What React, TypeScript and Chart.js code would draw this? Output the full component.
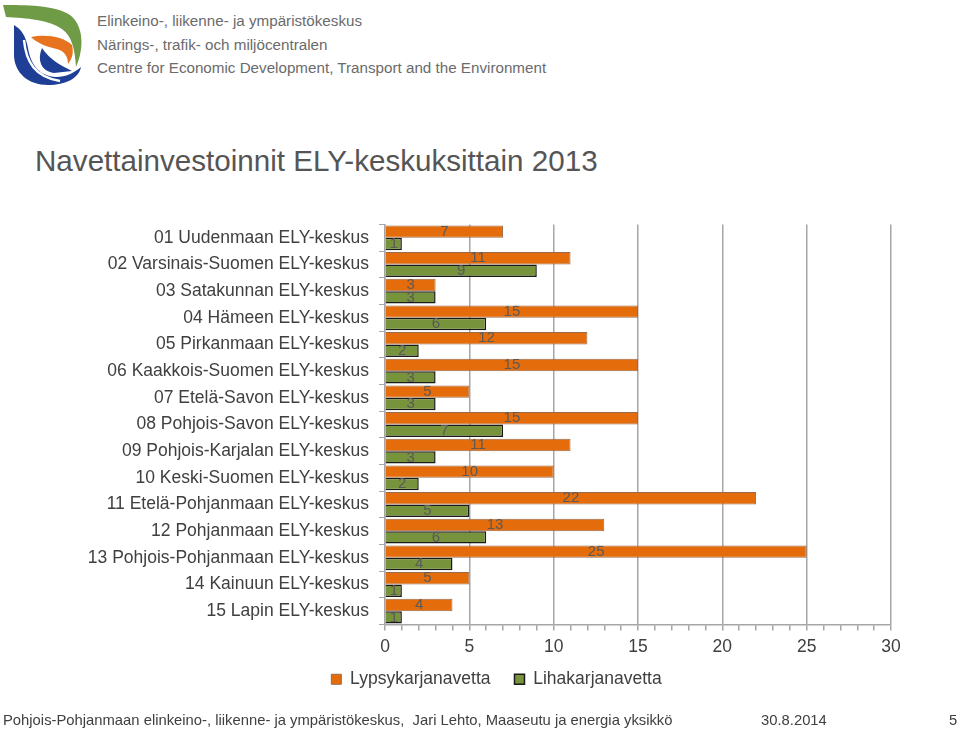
import React, { useEffect, useRef } from "react";
import { Chart, registerables } from "chart.js";

Chart.register(...registerables);

const categories = [
  "01 Uudenmaan ELY-keskus",
  "02 Varsinais-Suomen ELY-keskus",
  "03 Satakunnan ELY-keskus",
  "04 Hämeen ELY-keskus",
  "05 Pirkanmaan ELY-keskus",
  "06 Kaakkois-Suomen ELY-keskus",
  "07 Etelä-Savon ELY-keskus",
  "08 Pohjois-Savon ELY-keskus",
  "09 Pohjois-Karjalan ELY-keskus",
  "10 Keski-Suomen ELY-keskus",
  "11 Etelä-Pohjanmaan ELY-keskus",
  "12 Pohjanmaan ELY-keskus",
  "13 Pohjois-Pohjanmaan ELY-keskus",
  "14 Kainuun ELY-keskus",
  "15 Lapin ELY-keskus",
];
const lypsykarjanavetta = [7, 11, 3, 15, 12, 15, 5, 15, 11, 10, 22, 13, 25, 5, 4];
const lihakarjanavetta = [1, 9, 3, 6, 2, 3, 3, 7, 3, 2, 5, 6, 4, 1, 1];
const xTicks = [0, 5, 10, 15, 20, 25, 30];

const FONT = '"Liberation Sans", Arial, Helvetica, sans-serif';

const valueLabels = {
  id: "valueLabels",
  afterDatasetsDraw(chart: any) {
    const ctx = chart.ctx;
    ctx.save();
    ctx.font = `15px ${FONT}`;
    ctx.fillStyle = "#5a5a5a";
    ctx.textAlign = "center";
    ctx.textBaseline = "middle";
    chart.data.datasets.forEach((ds: any, i: number) => {
      const meta = chart.getDatasetMeta(i);
      meta.data.forEach((el: any, j: number) => {
        const p = el.getProps(["x", "base", "y"], true);
        ctx.fillText(String(ds.data[j]), (p.x + p.base) / 2, p.y);
      });
    });
    ctx.restore();
  },
};

// nudge the legend box so it sits where the reference has it
const legendShift = {
  id: "legendShift",
  afterLayout(chart: any) {
    const lg = chart.legend;
    if (!lg) return;
    lg.left += 11;
    lg.right += 11;
    lg.top -= 17;
    lg.bottom -= 17;
  },
};

function Logo() {
  return (
    <svg width="90" height="90" viewBox="0 0 90 90" style={{ position: "absolute", left: 0, top: 0 }}>
      <path d="M3,5 C25,5 55,5 70,15 C83,25 85,47 76,67 C75,50 72,36 62,29 C50,20 26,18 6,17 Z" fill="#6f9b46" />
      <path d="M14,25 C21,29 26,36 28,48 C31,66 40,76 56,77 C66,77 74,73 81,67 C79,78 66,85 48,85 C28,85 15,73 14,56 Z" fill="#1f3f97" />
      <path d="M24,40 C26,62 35,77 60,81" stroke="#ffffff" strokeWidth="2.5" fill="none" />
      <path d="M42,48 C37,60 41,71 54,73 L72,71 C62,66 50,60 42,48 Z" fill="#1f3f97" />
      <path d="M31,37 C45,34 63,36 72,45 C74,53 72,59 68,64 C68,56 64,51 57,49 C48,47 38,44 31,37 Z" fill="#e8731e" />
    </svg>
  );
}

export default function App() {
  const canvasRef = useRef<HTMLCanvasElement | null>(null);

  useEffect(() => {
    if (!canvasRef.current) return;
    const grey = "#a6a6a6";
    const chart = new Chart(canvasRef.current, {
      type: "bar",
      data: {
        labels: categories,
        datasets: [
          {
            label: "Lypsykarjanavetta",
            data: lypsykarjanavetta,
            backgroundColor: "#e46c0a",
            borderColor: "#9a6a4a",
            borderWidth: 1,
            categoryPercentage: 0.93,
            barPercentage: 1,
          },
          {
            label: "Lihakarjanavetta",
            data: lihakarjanavetta,
            backgroundColor: "#77933c",
            borderColor: "#1a1a1a",
            borderWidth: 1.5,
            categoryPercentage: 0.93,
            barPercentage: 1,
          },
        ],
      },
      options: {
        indexAxis: "y",
        animation: false,
        responsive: false,
        layout: { padding: { left: 80, right: 69, top: 10, bottom: 0 } },
        plugins: {
          legend: {
            position: "bottom",
            labels: {
              boxWidth: 10,
              boxHeight: 10,
              padding: 24,
              color: "#404040",
              font: { size: 17.5, family: FONT },
            },
          },
          tooltip: { enabled: false },
        },
        scales: {
          x: {
            min: 0,
            max: 30,
            ticks: {
              stepSize: 1,
              autoSkip: false,
              maxRotation: 0,
              padding: 6,
              color: "#404040",
              font: { size: 17.5, family: FONT },
              callback: (v: any) => (xTicks.includes(Number(v)) ? String(v) : ""),
            },
            grid: {
              color: (c: any) => (c.tick && xTicks.includes(c.tick.value) ? grey : "rgba(0,0,0,0)"),
              tickColor: grey,
              tickLength: 6,
              lineWidth: 1.5,
            },
            border: { color: grey, width: 1.5 },
          },
          y: {
            ticks: {
              padding: 10,
              color: "#404040",
              font: { size: 17.5, family: FONT },
              autoSkip: false,
            },
            grid: {
              drawOnChartArea: false,
              color: grey,
              tickLength: 6,
              offset: true,
            },
            border: { color: grey, width: 1.5 },
            afterFit: (scale: any) => {
              scale.width = 305;
            },
          },
        },
      },
      plugins: [valueLabels, legendShift],
    } as any);
    return () => chart.destroy();
  }, []);

  return (
    <div style={{ position: "absolute", left: 0, top: 0, width: 960, height: 731, background: "#fff", fontFamily: FONT, overflow: "hidden" }}>
      <Logo />
      <div style={{ position: "absolute", left: 97, top: 9, fontSize: 15.2, lineHeight: "23.5px", color: "#6b6b6b", whiteSpace: "nowrap" }}>
        <div>Elinkeino-, liikenne- ja ympäristökeskus</div>
        <div>Närings-, trafik- och miljöcentralen</div>
        <div>Centre for Economic Development, Transport and the Environment</div>
      </div>
      <div style={{ position: "absolute", left: 35, top: 144, fontSize: 29.6, color: "#555555", whiteSpace: "nowrap" }}>
        Navettainvestoinnit ELY-keskuksittain 2013
      </div>
      <canvas ref={canvasRef} width={960} height={511} style={{ position: "absolute", left: 0, top: 204, width: 960, height: 511 }} />
      <div style={{ position: "absolute", left: 3, top: 712, fontSize: 14.8, color: "#404040", whiteSpace: "nowrap" }}>
        Pohjois-Pohjanmaan elinkeino-, liikenne- ja ympäristökeskus,&nbsp; Jari Lehto, Maaseutu ja energia yksikkö
      </div>
      <div style={{ position: "absolute", left: 761, top: 712, fontSize: 14.8, color: "#404040", whiteSpace: "nowrap" }}>30.8.2014</div>
      <div style={{ position: "absolute", left: 949, top: 712, fontSize: 14.8, color: "#404040", whiteSpace: "nowrap" }}>5</div>
    </div>
  );
}
